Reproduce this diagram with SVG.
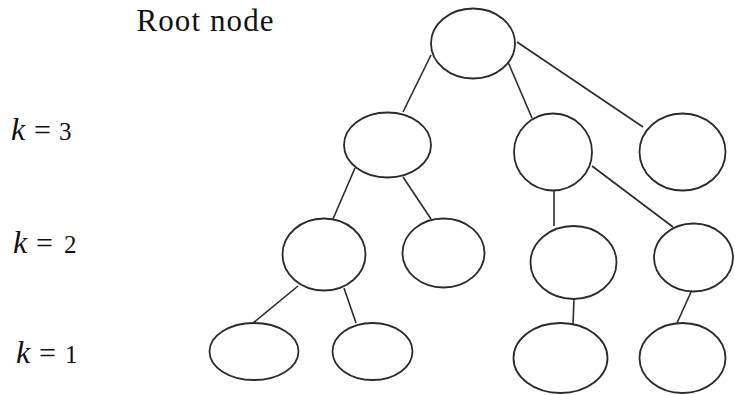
<svg xmlns="http://www.w3.org/2000/svg" width="735" height="395" viewBox="0 0 735 395">
<style>
.n{fill:#fff;stroke:#2a2a2a;stroke-width:1.8}
.e{stroke:#2a2a2a;stroke-width:1.6;fill:none}
text{font-family:'Liberation Serif','Times New Roman',serif;fill:#111}
.k{font-style:italic;font-size:32px}
.q{font-size:30px}
.v{font-size:25px}
</style>
<rect width="735" height="395" fill="#fff"/>
<g id="labels">
<text x="136.5" y="31" font-family="Liberation Serif, serif" font-size="31" textLength="137" lengthAdjust="spacing">Root node</text>
<text y="140" font-family="Liberation Serif, serif"><tspan class="k" x="11">k</tspan><tspan class="q" x="34">=</tspan><tspan class="v" x="59">3</tspan></text>
<text y="253" font-family="Liberation Serif, serif"><tspan class="k" x="13">k</tspan><tspan class="q" x="36">=</tspan><tspan class="v" x="64">2</tspan></text>
<text y="363" font-family="Liberation Serif, serif"><tspan class="k" x="16">k</tspan><tspan class="q" x="39">=</tspan><tspan class="v" x="65">1</tspan></text>
</g>
<g id="connectors" class="e">
<line x1="431" y1="55" x2="403" y2="112"/>
<line x1="508" y1="62" x2="532" y2="118"/>
<line x1="517" y1="42" x2="643" y2="127"/>
<line x1="355" y1="168" x2="333" y2="219"/>
<line x1="403" y1="177" x2="431" y2="219"/>
<line x1="554" y1="190" x2="554" y2="226"/>
<line x1="592" y1="166" x2="673" y2="227"/>
<line x1="298" y1="286" x2="253" y2="323"/>
<line x1="344" y1="288" x2="356" y2="323"/>
<line x1="574" y1="299" x2="573" y2="324"/>
<line x1="691" y1="292" x2="677" y2="323"/>
</g>
<g id="root"><ellipse class="n" cx="473" cy="43.5" rx="42" ry="35"/></g>
<g id="k3a"><ellipse class="n" cx="387.5" cy="145" rx="43.5" ry="32.5"/></g>
<g id="k3b"><ellipse class="n" cx="553" cy="152" rx="39" ry="38.5"/></g>
<g id="k3c"><ellipse class="n" cx="682.5" cy="152" rx="43" ry="38.5"/></g>
<g id="k2a"><ellipse class="n" cx="324" cy="254.5" rx="41.5" ry="36"/></g>
<g id="k2b"><ellipse class="n" cx="443.5" cy="253" rx="41" ry="34.5"/></g>
<g id="k2c"><ellipse class="n" cx="573.5" cy="262.5" rx="43" ry="36.5"/></g>
<g id="k2d"><ellipse class="n" cx="693.5" cy="257.5" rx="39.5" ry="34"/></g>
<g id="k1a"><ellipse class="n" cx="254" cy="351.5" rx="44.5" ry="28.5"/></g>
<g id="k1b"><ellipse class="n" cx="372.5" cy="351.5" rx="40" ry="28.5"/></g>
<g id="k1c"><ellipse class="n" cx="560.5" cy="358" rx="47" ry="35"/></g>
<g id="k1d"><ellipse class="n" cx="682.5" cy="358" rx="43" ry="35"/></g>
</svg>
